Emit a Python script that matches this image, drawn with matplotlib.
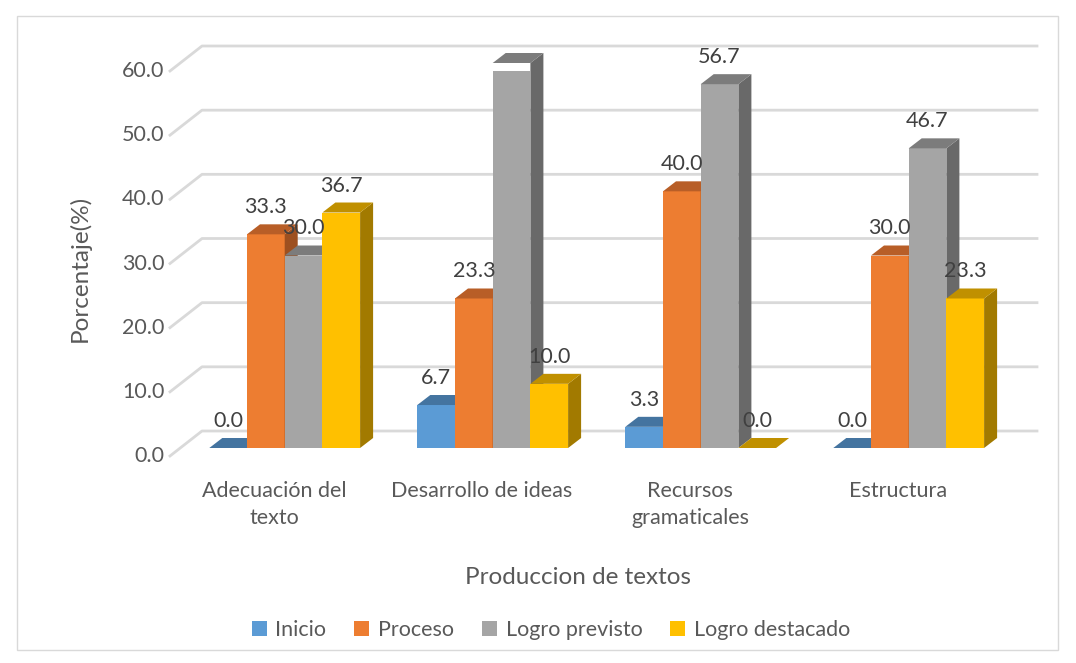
import numpy as np
import matplotlib
matplotlib.use("Agg")
import matplotlib.pyplot as plt
from matplotlib.patches import Rectangle
from matplotlib.transforms import ScaledTranslation

plt.rcParams["font.family"] = ["Lato", "DejaVu Sans"]

categories = ["Adecuación del\ntexto", "Desarrollo de ideas", "Recursos\ngramaticales", "Estructura"]
series = ["Inicio", "Proceso", "Logro previsto", "Logro destacado"]
inicio = [0.0, 6.7, 3.3, 0.0]
proceso = [33.3, 23.3, 40.0, 30.0]
previsto = [30.0, 60.0, 56.7, 46.7]
destacado = [36.7, 10.0, 0.0, 23.3]
values = [inicio, proceso, previsto, destacado]
yticks = [0, 10, 20, 30, 40, 50, 60]

front = ["#5B9BD5", "#ED7D31", "#A5A5A5", "#FFC000"]
top = ["#4474A0", "#B85E27", "#7C7C7C", "#C09000"]
side = ["#3A6187", "#9D5020", "#696969", "#A27A00"]
grid_col = "#D9D9D9"

W, H = 1076, 663
fig = plt.figure(figsize=(W/100, H/100), dpi=100)
left, right, y0, y60 = 170, 1002, 456, 71
ax = fig.add_axes([left/W, 1-y0/H, (right-left)/W, (y0-y60)/H])
ax.set_xlim(-0.5, 3.5); ax.set_ylim(0, 60)
px = (right-left)/4; py = (y0-y60)/60   # pixels per unit

# bar geometry
bw = 37.7/px; off_x = 10.7/px; base = 8/py
dx = 13/px; dy = 10/py
# floor / wall shift for the gridlines
wall_x = 32/px; wall_y = 25/py

fig.add_artist(Rectangle((17/W, 1-650/H), (1058-17)/W, (650-16)/H, transform=fig.transFigure,
                         fill=False, ec="#D9D9D9", lw=1))

for t in yticks:
    ax.plot([-0.5, -0.5+wall_x, 3.5+wall_x+3/px], [t, t+wall_y, t+wall_y], color=grid_col, lw=2,
            clip_on=False, zorder=1)

for j, name in enumerate(series):
    xs = np.arange(4) + off_x + (j-1.5)*bw
    ax.bar(xs, values[j], bw, bottom=base, color=front[j], label=name, zorder=3+j)
    for x, v in zip(xs, values[j]):
        r = x + bw/2; l = x - bw/2; h = base + v
        if v > 0:
            ax.fill([r, r+dx, r+dx, r], [base, base+dy, h+dy, h], color=side[j], lw=0,
                    clip_on=False, zorder=3+j)
        ax.fill([l, l+dx, r+dx, r], [h, h+dy, h+dy, h], color=top[j], lw=0,
                clip_on=False, zorder=3+j)

for j in range(4):
    xs = np.arange(4) + off_x + (j-1.5)*bw
    for x, v in zip(xs, values[j]):
        ax.annotate(f"{v:.1f}", (x, base+v), xytext=(0, 27*0.72), textcoords="offset points",
                    ha="center", va="center", fontsize=15.5, color="#404040", zorder=10)

for s in ax.spines.values():
    s.set_visible(False)
ax.patch.set_alpha(0)
ax.set_xticks(range(4)); ax.set_xticklabels(categories, fontsize=15.5, color="#595959", linespacing=1.45)
ax.set_yticks(yticks); ax.set_yticklabels([f"{t:.1f}" for t in yticks], fontsize=15.5, color="#595959")
ax.tick_params(axis="both", length=0)
ax.tick_params(axis="x", pad=18)
ax.tick_params(axis="y", pad=4)
for lab in ax.get_yticklabels():
    lab.set_transform(lab.get_transform() + ScaledTranslation(0, 2/100, fig.dpi_scale_trans))

ax.set_ylabel("Porcentaje(%)", fontsize=17.5, color="#595959")
ax.yaxis.set_label_coords((80-left)/(right-left), (y0-268)/(y0-y60))
ax.set_xlabel("Produccion de textos", fontsize=17.5, color="#595959")
ax.xaxis.set_label_coords((578-left)/(right-left), (y0-578)/(y0-y60))
ax.xaxis.label.set_va("center")
ax.yaxis.label.set_va("center")

fig.legend(loc="center", bbox_to_anchor=(551/W, 1-630/H), ncol=4, frameon=False, fontsize=15.5,
           labelcolor="#595959", handlelength=0.7, handleheight=0.7, handletextpad=0.4, columnspacing=1.3)

fig.savefig("out.png", dpi=100)
